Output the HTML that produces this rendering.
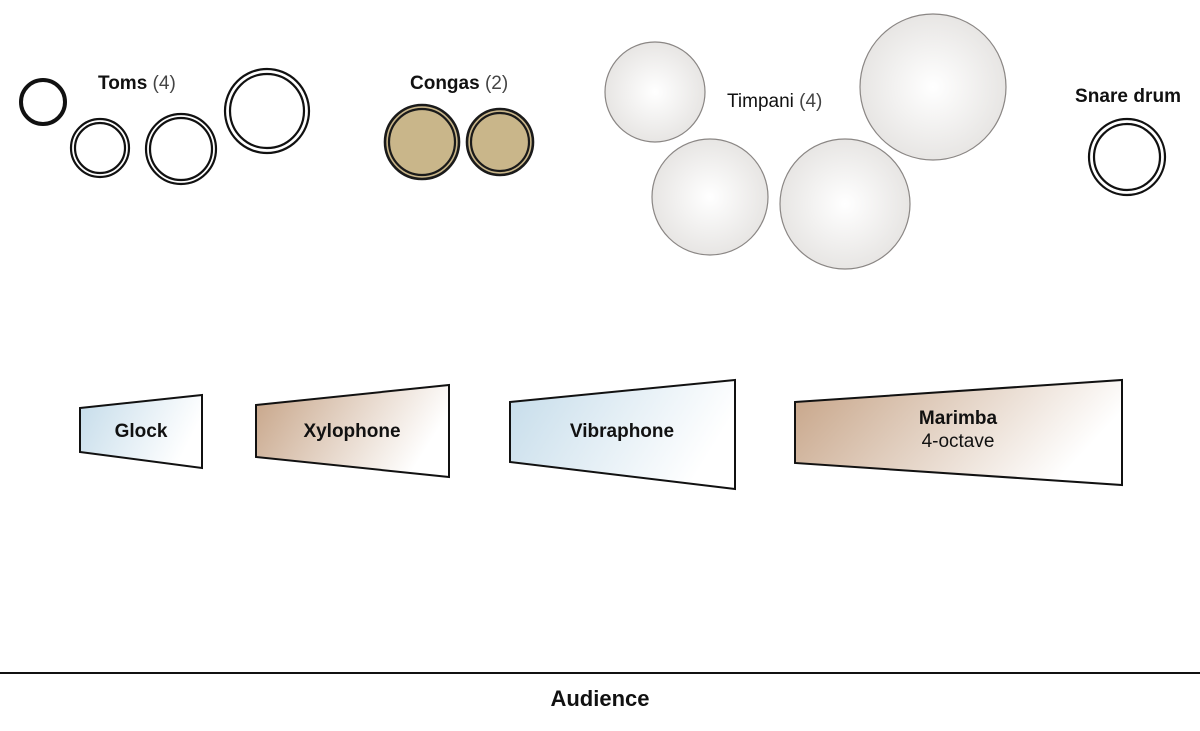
<!DOCTYPE html>
<html><head><style>
body{margin:0;background:#fff;}
svg text{font-family:"Liberation Sans",sans-serif;fill:#111;}
</style></head><body>
<svg width="1200" height="726" viewBox="0 0 1200 726" xmlns="http://www.w3.org/2000/svg">
<defs>
<radialGradient id="tg" cx="0.5" cy="0.5" r="0.55"><stop offset="0" stop-color="#ffffff"/><stop offset="1" stop-color="#e5e3e1"/></radialGradient>
<linearGradient id="bl" x1="0" x2="1" y1="0" y2="0.3"><stop offset="0" stop-color="#c5dcea"/><stop offset="1" stop-color="#ffffff"/></linearGradient>
<linearGradient id="br" x1="0" x2="1" y1="0" y2="0.3"><stop offset="0" stop-color="#c6a386"/><stop offset="1" stop-color="#ffffff"/></linearGradient>
</defs>
<g fill="none" stroke="#111">
<circle cx="43" cy="102" r="22" stroke-width="4"/>
<circle cx="100" cy="148" r="29" stroke-width="2.2"/><circle cx="100" cy="148" r="25" stroke-width="2.2"/>
<circle cx="181" cy="149" r="35" stroke-width="2.2"/><circle cx="181" cy="149" r="31" stroke-width="2.2"/>
<circle cx="267" cy="111" r="42" stroke-width="2.2"/><circle cx="267" cy="111" r="37" stroke-width="2.2"/>
<circle cx="1127" cy="157" r="38" stroke-width="2.2"/><circle cx="1127" cy="157" r="33" stroke-width="2.2"/>
</g>
<g stroke="#1a1a1a" fill="#c9b68a">
<circle cx="422" cy="142" r="37" stroke-width="2.6"/><circle cx="422" cy="142" r="33" stroke-width="2.2"/>
<circle cx="500" cy="142" r="33" stroke-width="2.6"/><circle cx="500" cy="142" r="29" stroke-width="2.2"/>
</g>
<g fill="url(#tg)" stroke="#8a8684" stroke-width="1.2">
<circle cx="655" cy="92" r="50"/>
<circle cx="710" cy="197" r="58"/>
<circle cx="845" cy="204" r="65"/>
<circle cx="933" cy="87" r="73"/>
</g>
<g font-size="19" font-weight="bold">
<text x="98" y="89">Toms <tspan font-weight="normal" fill="#444">(4)</tspan></text>
<text x="410" y="89">Congas <tspan font-weight="normal" fill="#444">(2)</tspan></text>
<text x="727" y="107" font-weight="normal">Timpani <tspan fill="#444">(4)</tspan></text>
<text x="1075" y="102" textLength="106">Snare drum</text>
</g>
<g stroke="#111" stroke-width="2">
<polygon points="80,408 202,395 202,468 80,452" fill="url(#bl)"/>
<polygon points="256,405 449,385 449,477 256,457" fill="url(#br)"/>
<polygon points="510,402 735,380 735,489 510,462" fill="url(#bl)"/>
<polygon points="795,402 1122,380 1122,485 795,463" fill="url(#br)"/>
</g>
<g font-size="19" font-weight="bold" text-anchor="middle">
<text x="141" y="437">Glock</text>
<text x="352" y="437">Xylophone</text>
<text x="622" y="437">Vibraphone</text>
<text x="958" y="424">Marimba</text>
<text x="958" y="447" font-weight="normal" fill="#333">4-octave</text>
</g>
<line x1="0" y1="673" x2="1200" y2="673" stroke="#111" stroke-width="2"/>
<text x="600" y="706" font-size="22" text-anchor="middle" font-weight="bold">Audience</text>
</svg>
</body></html>
